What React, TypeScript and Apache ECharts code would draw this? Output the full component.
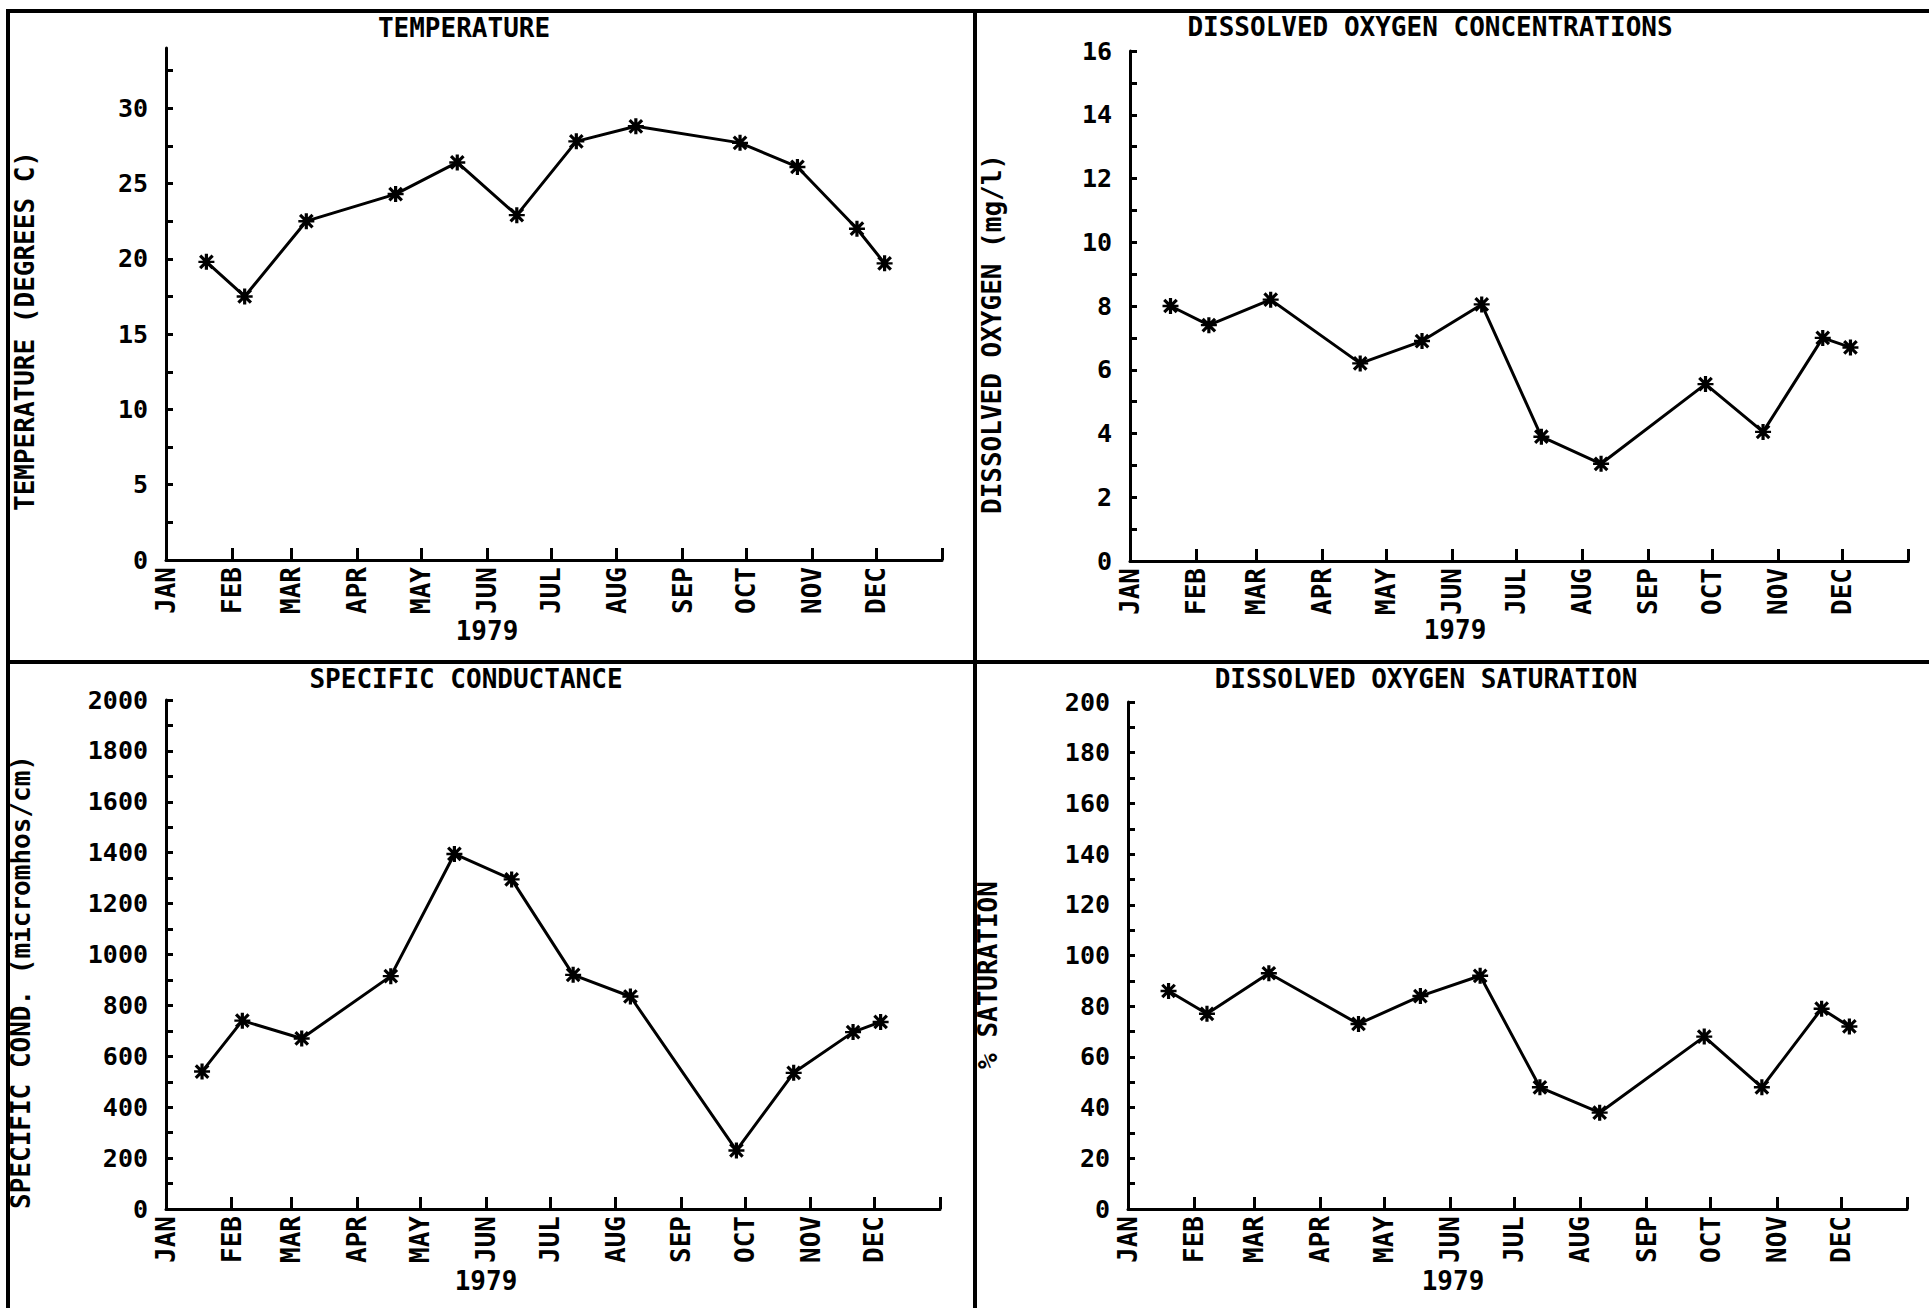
import React, { useEffect, useRef } from "react";
import * as echarts from "echarts";

// ---- data ----
const MONTH_LABELS = ["JAN", "FEB", "MAR", "APR", "MAY", "JUN", "JUL", "AUG", "SEP", "OCT", "NOV", "DEC"];
const YEAR_LABEL = "1979";

const sampleDates = [
  "1979-01-20", "1979-02-07", "1979-03-08", "1979-04-19", "1979-05-18", "1979-06-15",
  "1979-07-13", "1979-08-10", "1979-09-28", "1979-10-25", "1979-11-22", "1979-12-05",
];
const condDates = [
  "1979-01-18", "1979-02-06", "1979-03-06", "1979-04-17", "1979-05-17", "1979-06-13",
  "1979-07-12", "1979-08-08", "1979-09-27", "1979-10-24", "1979-11-21", "1979-12-04",
];

const temperature = [19.8, 17.5, 22.5, 24.3, 26.4, 22.9, 27.8, 28.8, 27.7, 26.1, 22.0, 19.7];
const dissolvedOxygen = [8.0, 7.4, 8.2, 6.2, 6.9, 8.05, 3.9, 3.05, 5.55, 4.05, 7.0, 6.7];
const conductance = [540, 740, 670, 915, 1395, 1295, 920, 835, 230, 535, 695, 735];
const saturation = [86, 77, 93, 73, 84, 92, 48, 38, 68, 48, 79, 72];

const tempLabels = [0, 5, 10, 15, 20, 25, 30];
const tempTicks = [0, 2.5, 5, 7.5, 10, 12.5, 15, 17.5, 20, 22.5, 25, 27.5, 30, 32.5];
const doLabels = [0, 2, 4, 6, 8, 10, 12, 14, 16];
const doTicks = [0, 1, 2, 3, 4, 5, 6, 7, 8, 9, 10, 11, 12, 13, 14, 15, 16];
const condLabels = [0, 200, 400, 600, 800, 1000, 1200, 1400, 1600, 1800, 2000];
const condTicks = [0, 100, 200, 300, 400, 500, 600, 700, 800, 900, 1000, 1100, 1200, 1300, 1400, 1500, 1600, 1700, 1800, 1900, 2000];
const satLabels = [0, 20, 40, 60, 80, 100, 120, 140, 160, 180, 200];
const satTicks = [0, 10, 20, 30, 40, 50, 60, 70, 80, 90, 100, 110, 120, 130, 140, 150, 160, 170, 180, 190, 200];

const titles = ["TEMPERATURE", "DISSOLVED OXYGEN CONCENTRATIONS", "SPECIFIC CONDUCTANCE", "DISSOLVED OXYGEN SATURATION"];
const yNames = ["TEMPERATURE (DEGREES C)", "DISSOLVED OXYGEN (mg/l)", "SPECIFIC COND. (micromhos/cm)", "% SATURATION"];

const FONT = "DejaVu Sans Mono";
const ASTERISK =
  "path://M8,0 L12,0 L12,20 L8,20 Z M0.8,3.6 L3.6,0.8 L19.2,16.4 L16.4,19.2 Z M16.4,0.8 L19.2,3.6 L3.6,19.2 L0.8,16.4 Z M0,8.5 L20,8.5 L20,11.5 L0,11.5 Z";

export default function App() {
  const ref = useRef<HTMLDivElement>(null);

  useEffect(() => {
    if (!ref.current) return;
    const chart = echarts.init(ref.current, null, { renderer: "svg" });

    const monthStarts: number[] = [];
    for (let i = 0; i <= 12; i++) monthStarts.push(Date.UTC(1979, i, 1));
    const labelStarts = monthStarts.slice(0, 12);
    const xMin = monthStarts[0];
    const xMax = monthStarts[12];

    const grids = [
      { left: 166, top: 48, width: 776, height: 512 },
      { left: 1130, top: 51, width: 778, height: 510 },
      { left: 166, top: 700, width: 774, height: 509 },
      { left: 1128, top: 702, width: 779, height: 507 },
    ];
    const yConf = [
      { max: 34, labels: tempLabels, ticks: tempTicks },
      { max: 16, labels: doLabels, ticks: doTicks },
      { max: 2000, labels: condLabels, ticks: condTicks },
      { max: 200, labels: satLabels, ticks: satTicks },
    ];
    const seriesData = [
      sampleDates.map((d, i) => [Date.parse(d), temperature[i]]),
      sampleDates.map((d, i) => [Date.parse(d), dissolvedOxygen[i]]),
      condDates.map((d, i) => [Date.parse(d), conductance[i]]),
      sampleDates.map((d, i) => [Date.parse(d), saturation[i]]),
    ];

    const labelFont = { fontFamily: FONT, fontWeight: "bold" as const, fontSize: 25, color: "#000" };

    const xAxis = grids.map((_, i) => ({
      type: "value",
      gridIndex: i,
      min: xMin,
      max: xMax,
      axisLine: { show: true, onZero: false, lineStyle: { color: "#000", width: 3 } },
      axisTick: {
        show: true,
        inside: true,
        length: 12,
        customValues: monthStarts,
        lineStyle: { color: "#000", width: 3 },
      },
      axisLabel: {
        show: true,
        rotate: 90,
        margin: 7,
        customValues: labelStarts,
        formatter: (v: number) => MONTH_LABELS[new Date(v).getUTCMonth()],
        ...labelFont,
        fontSize: 26,
      },
      splitLine: { show: false },
    }));

    const yAxis = grids.map((_, i) => ({
      type: "value",
      gridIndex: i,
      min: 0,
      max: yConf[i].max,
      axisLine: { show: true, onZero: false, lineStyle: { color: "#000", width: 3 } },
      axisTick: {
        show: true,
        inside: true,
        length: 7,
        customValues: yConf[i].ticks,
        lineStyle: { color: "#000", width: 3 },
      },
      axisLabel: {
        show: true,
        margin: 18,
        customValues: yConf[i].labels,
        formatter: (v: number) => String(v),
        ...labelFont,
      },
      splitLine: { show: false },
    }));

    const series = seriesData.map((data, i) => ({
      type: "line",
      xAxisIndex: i,
      yAxisIndex: i,
      data,
      symbol: ASTERISK,
      symbolSize: 16,
      showSymbol: true,
      itemStyle: { color: "#000" },
      lineStyle: { color: "#000", width: 3 },
    }));

    const titlePos = [
      [464, 28],
      [1430, 27],
      [466, 679],
      [1426, 679],
    ];
    const namePos = [
      [25, 331],
      [992, 334],
      [21, 982],
      [988, 975],
    ];
    const yearPos = [
      [487, 631],
      [1455, 630],
      [486, 1281],
      [1453, 1281],
    ];
    const textStyle = (t: string) => ({
      text: t,
      fill: "#000",
      fontFamily: FONT,
      fontWeight: "bold",
      fontSize: 26,
      textAlign: "center",
      textVerticalAlign: "middle",
    });

    const graphic: any[] = [];
    const borderStyle = { stroke: "#000", lineWidth: 4 };
    graphic.push({ type: "line", shape: { x1: 6, y1: 11, x2: 1929, y2: 11 }, style: borderStyle });
    graphic.push({ type: "line", shape: { x1: 8, y1: 11, x2: 8, y2: 1308 }, style: borderStyle });
    graphic.push({ type: "line", shape: { x1: 975, y1: 11, x2: 975, y2: 1308 }, style: borderStyle });
    graphic.push({ type: "line", shape: { x1: 8, y1: 662, x2: 1929, y2: 662 }, style: borderStyle });
    for (let i = 0; i < 4; i++) {
      graphic.push({ type: "text", x: titlePos[i][0], y: titlePos[i][1], style: textStyle(titles[i]) });
      graphic.push({
        type: "text",
        x: namePos[i][0],
        y: namePos[i][1],
        rotation: Math.PI / 2,
        style: textStyle(yNames[i]),
      });
      graphic.push({ type: "text", x: yearPos[i][0], y: yearPos[i][1], style: textStyle(YEAR_LABEL) });
    }

    chart.setOption({
      animation: false,
      backgroundColor: "#fff",
      grid: grids.map((g) => ({ ...g, containLabel: false, outerBoundsMode: "none" })),
      xAxis,
      yAxis,
      series,
      graphic,
    } as any);

    return () => chart.dispose();
  }, []);

  return (
    <div
      ref={ref}
      style={{ position: "absolute", left: 0, top: 0, width: 1929, height: 1308, background: "#fff" }}
    />
  );
}
